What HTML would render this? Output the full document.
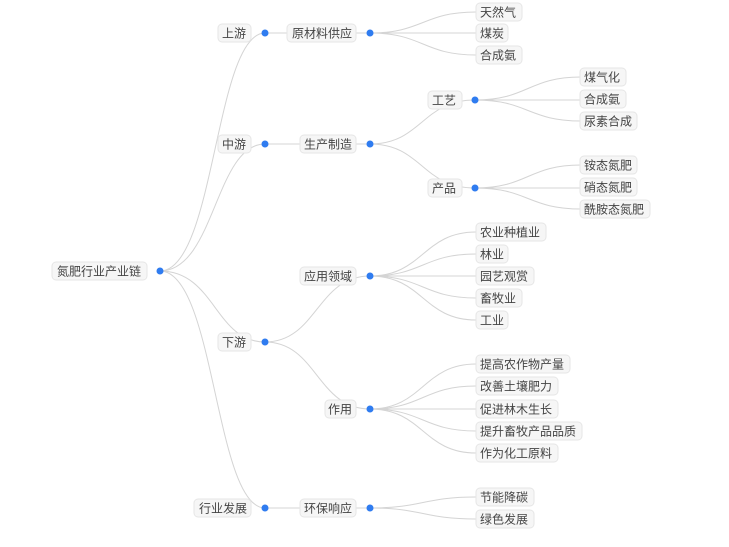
<!DOCTYPE html>
<html><head><meta charset="utf-8"><style>
html,body{margin:0;padding:0;background:#fff;}
svg{display:block;}
text{font-family:"Liberation Sans","Noto Sans CJK SC",sans-serif;font-size:12px;fill:#444;}
.b{fill:#f6f6f6;stroke:#e6e6e6;stroke-width:1;}
.e{fill:none;stroke:#d4d4d4;stroke-width:1;}
.d{fill:#2f7cf0;}
</style></head><body>
<svg width="729" height="547" viewBox="0 0 729 547" xmlns="http://www.w3.org/2000/svg">
<g class="e">
<path class="e" d="M160,271 C215,271 215,33 265,33"/>
<path class="e" d="M160,271 C215,271 215,144 265,144"/>
<path class="e" d="M160,271 C215,271 215,342 265,342"/>
<path class="e" d="M160,271 C215,271 215,508 265,508"/>
<path class="e" d="M265,33 L370,33"/>
<path class="e" d="M265,144 L370,144"/>
<path class="e" d="M265,342 C317,342 317,276 370,276"/>
<path class="e" d="M265,342 C317,342 317,409 370,409"/>
<path class="e" d="M265,508 L370,508"/>
<path class="e" d="M370,144 C422,144 422,100 475,100"/>
<path class="e" d="M370,144 C422,144 422,188 475,188"/>
<path class="e" d="M370,33 C423,33 423,12 476,12"/>
<path class="e" d="M370,33 L476,33"/>
<path class="e" d="M370,33 C423,33 423,55 476,55"/>
<path class="e" d="M475,100 C528,100 528,77 581,77"/>
<path class="e" d="M475,100 L581,100"/>
<path class="e" d="M475,100 C528,100 528,121 581,121"/>
<path class="e" d="M475,188 C528,188 528,165 581,165"/>
<path class="e" d="M475,188 L581,188"/>
<path class="e" d="M475,188 C528,188 528,209 581,209"/>
<path class="e" d="M370,276 C423,276 423,232 476,232"/>
<path class="e" d="M370,276 C423,276 423,254 476,254"/>
<path class="e" d="M370,276 L476,276"/>
<path class="e" d="M370,276 C423,276 423,298 476,298"/>
<path class="e" d="M370,276 C423,276 423,320 476,320"/>
<path class="e" d="M370,409 C423,409 423,364 476,364"/>
<path class="e" d="M370,409 C423,409 423,386 476,386"/>
<path class="e" d="M370,409 L476,409"/>
<path class="e" d="M370,409 C423,409 423,431 476,431"/>
<path class="e" d="M370,409 C423,409 423,453 476,453"/>
<path class="e" d="M370,508 C423,508 423,497 476,497"/>
<path class="e" d="M370,508 C423,508 423,519 476,519"/>
</g>
<!-- boxes -->
<rect class="b" x="52" y="262" width="95" height="18" rx="4"/><text x="57" y="275.5">氮肥行业产业链</text>
<rect class="b" x="218" y="24" width="33" height="18" rx="4"/><text x="222" y="37.5">上游</text>
<rect class="b" x="218" y="135" width="33" height="18" rx="4"/><text x="222" y="148.5">中游</text>
<rect class="b" x="218" y="333" width="33" height="18" rx="4"/><text x="222" y="346.5">下游</text>
<rect class="b" x="194" y="499" width="57" height="18" rx="4"/><text x="199" y="512.5">行业发展</text>
<rect class="b" x="287" y="24" width="69" height="18" rx="4"/><text x="292" y="37.5">原材料供应</text>
<rect class="b" x="300" y="135" width="56" height="18" rx="4"/><text x="304" y="148.5">生产制造</text>
<rect class="b" x="300" y="267" width="56" height="18" rx="4"/><text x="304" y="280.5">应用领域</text>
<rect class="b" x="325" y="400" width="31" height="18" rx="4"/><text x="328" y="413.5">作用</text>
<rect class="b" x="300" y="499" width="56" height="18" rx="4"/><text x="304" y="512.5">环保响应</text>
<rect class="b" x="428" y="91" width="34" height="18" rx="4"/><text x="432" y="104.5">工艺</text>
<rect class="b" x="428" y="179" width="34" height="18" rx="4"/><text x="432" y="192.5">产品</text>
<rect class="b" x="476" y="3" width="46" height="18" rx="4"/><text x="480" y="16.5">天然气</text>
<rect class="b" x="476" y="24" width="32" height="18" rx="4"/><text x="480" y="37.5">煤炭</text>
<rect class="b" x="476" y="46" width="46" height="18" rx="4"/><text x="480" y="59.5">合成氨</text>
<rect class="b" x="580" y="68" width="46" height="18" rx="4"/><text x="584" y="81.5">煤气化</text>
<rect class="b" x="580" y="90" width="46" height="18" rx="4"/><text x="584" y="103.5">合成氨</text>
<rect class="b" x="580" y="112" width="57" height="18" rx="4"/><text x="584" y="125.5">尿素合成</text>
<rect class="b" x="580" y="156" width="57" height="18" rx="4"/><text x="584" y="169.5">铵态氮肥</text>
<rect class="b" x="580" y="178" width="57" height="18" rx="4"/><text x="584" y="191.5">硝态氮肥</text>
<rect class="b" x="580" y="200" width="70" height="18" rx="4"/><text x="584" y="213.5">酰胺态氮肥</text>
<rect class="b" x="476" y="223" width="70" height="18" rx="4"/><text x="480" y="236.5">农业种植业</text>
<rect class="b" x="476" y="245" width="32" height="18" rx="4"/><text x="480" y="258.5">林业</text>
<rect class="b" x="476" y="267" width="58" height="18" rx="4"/><text x="480" y="280.5">园艺观赏</text>
<rect class="b" x="476" y="289" width="46" height="18" rx="4"/><text x="480" y="302.5">畜牧业</text>
<rect class="b" x="476" y="311" width="32" height="18" rx="4"/><text x="480" y="324.5">工业</text>
<rect class="b" x="476" y="355" width="94" height="18" rx="4"/><text x="480" y="368.5">提高农作物产量</text>
<rect class="b" x="476" y="377" width="82" height="18" rx="4"/><text x="480" y="390.5">改善土壤肥力</text>
<rect class="b" x="476" y="400" width="82" height="18" rx="4"/><text x="480" y="413.5">促进林木生长</text>
<rect class="b" x="476" y="422" width="106" height="18" rx="4"/><text x="480" y="435.5">提升畜牧产品品质</text>
<rect class="b" x="476" y="444" width="82" height="18" rx="4"/><text x="480" y="457.5">作为化工原料</text>
<rect class="b" x="476" y="488" width="58" height="18" rx="4"/><text x="480" y="501.5">节能降碳</text>
<rect class="b" x="476" y="510" width="58" height="18" rx="4"/><text x="480" y="523.5">绿色发展</text>
<!-- dots -->
<circle class="d" cx="160" cy="271" r="3.5"/>
<circle class="d" cx="265" cy="33" r="3.5"/>
<circle class="d" cx="265" cy="144" r="3.5"/>
<circle class="d" cx="265" cy="342" r="3.5"/>
<circle class="d" cx="265" cy="508" r="3.5"/>
<circle class="d" cx="370" cy="33" r="3.5"/>
<circle class="d" cx="370" cy="144" r="3.5"/>
<circle class="d" cx="370" cy="276" r="3.5"/>
<circle class="d" cx="370" cy="409" r="3.5"/>
<circle class="d" cx="370" cy="508" r="3.5"/>
<circle class="d" cx="475" cy="100" r="3.5"/>
<circle class="d" cx="475" cy="188" r="3.5"/>
</svg>
</body></html>
